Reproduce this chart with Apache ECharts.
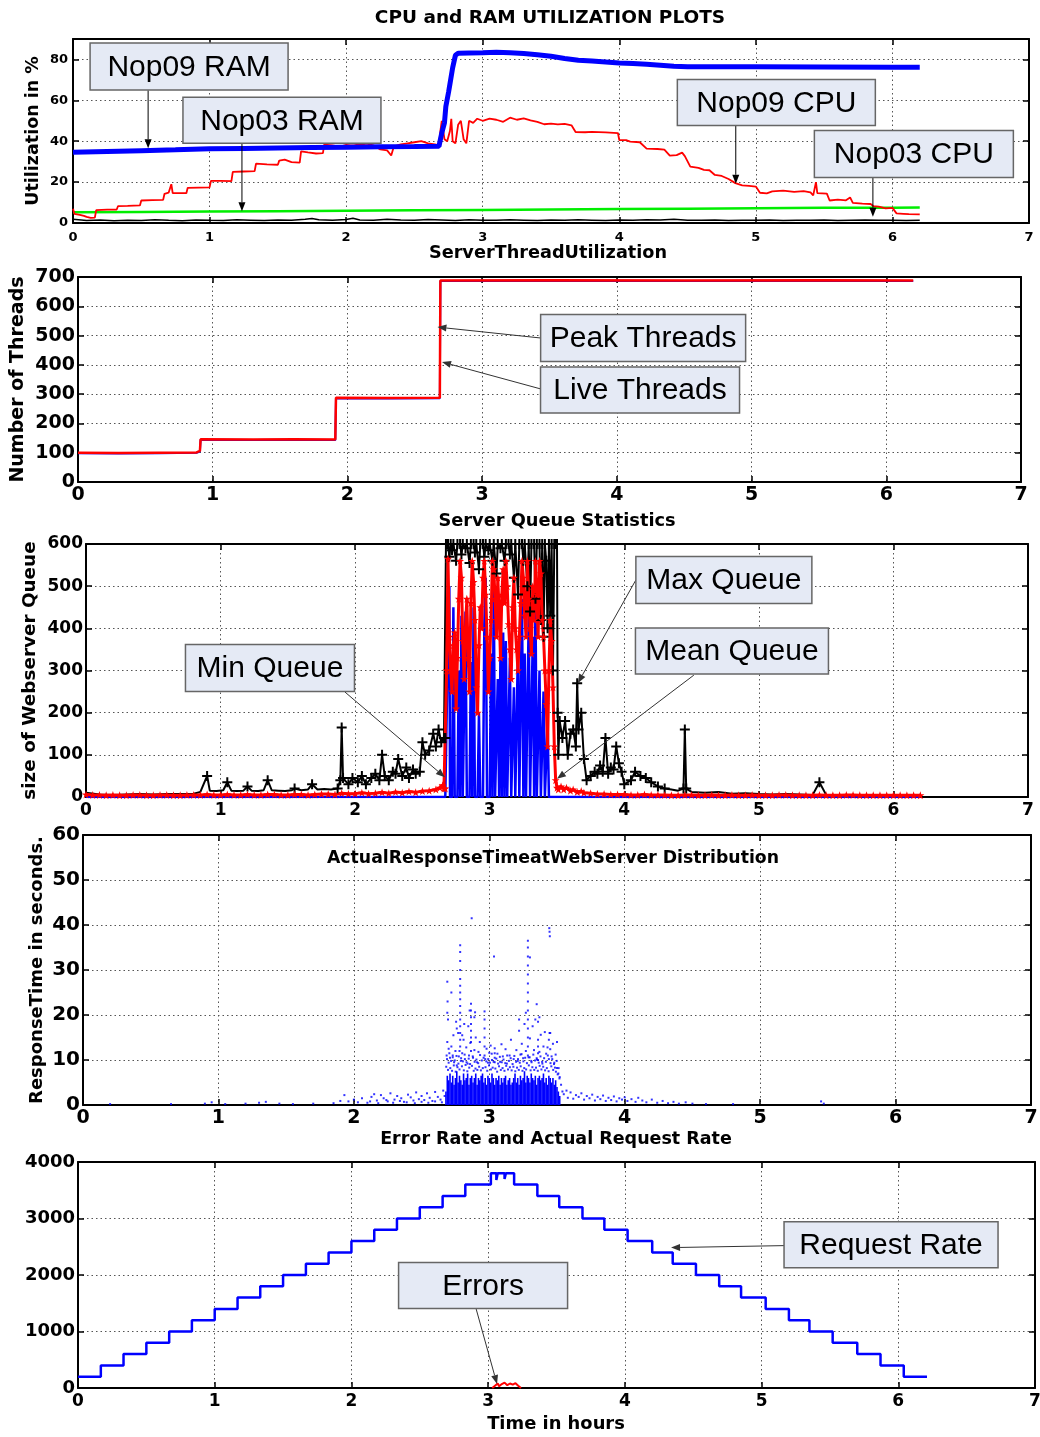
<!DOCTYPE html>
<html><head><meta charset="utf-8">
<script src="https://cdn.jsdelivr.net/npm/echarts@6/dist/echarts.min.js"></script>
<style>html,body{margin:0;padding:0;background:#fff}#c{width:1040px;height:1437px}</style>
</head><body><div id="c"></div><script>
const FF = '"Liberation Sans", Arial, Helvetica, sans-serif';
const FB = '"DejaVu Sans", Verdana, sans-serif';

// ================= DATA =================
const hourTicks = [0, 1, 2, 3, 4, 5, 6, 7];

// Panel 1: CPU and RAM utilization (%)
const ram09 = [[0,34.6],[0.25,35],[0.5,35.4],[0.75,35.8],[1.0,36.3],[1.25,36.5],[1.5,36.7],[1.75,36.9],[2.0,37.1],[2.25,37.3],[2.5,37.4],[2.68,37.6],[2.70,44],[2.72,49],[2.73,57],[2.75,64],[2.76,68],[2.78,76],[2.80,82],[2.82,83],[2.9,83.2],[3.0,83.3],[3.1,83.5],[3.2,83.3],[3.3,82.9],[3.4,82.3],[3.5,81.6],[3.6,80.5],[3.7,79.6],[3.8,79.2],[3.9,78.8],[4.0,78.3],[4.1,78],[4.2,77.6],[4.3,77.2],[4.4,76.7],[4.5,76.4],[5.0,76.4],[5.5,76.3],[6.0,76.2],[6.2,76.2]];
const ram03 = [[0,5.2],[0.5,5.4],[1,5.6],[1.5,5.8],[2,6],[2.5,6.2],[3,6.4],[3.5,6.6],[4,6.8],[4.5,7],[5,7.2],[5.5,7.4],[6,7.5],[6.2,7.6]];
const cpu09 = [[0,7],[0.01,4.5],[0.05,4],[0.08,3.5],[0.1,3],[0.13,2.5],[0.16,2.6],[0.17,6.3],[0.25,6.5],[0.32,6.6],[0.33,8.3],[0.4,8.4],[0.49,8.6],[0.5,11],[0.58,11.2],[0.66,11.3],[0.67,14.3],[0.7,14.8],[0.72,19],[0.73,14.6],[0.83,14.6],[0.84,17.2],[0.92,17.3],[1.0,17.4],[1.01,20.6],[1.08,20.6],[1.16,20.5],[1.17,25],[1.25,25.2],[1.33,25.4],[1.34,29],[1.42,28.7],[1.5,28.5],[1.51,30.5],[1.55,31],[1.6,29.8],[1.66,29.5],[1.67,35],[1.72,34.5],[1.78,34],[1.83,34.2],[1.84,38.5],[1.9,38.8],[1.95,39.5],[2.0,38.6],[2.05,39],[2.1,38.2],[2.15,38.8],[2.2,38],[2.25,36],[2.3,35.5],[2.33,33],[2.35,37.5],[2.4,38.5],[2.45,39],[2.5,39.5],[2.55,40],[2.6,39],[2.65,38.5],[2.68,38],[2.69,45],[2.7,50],[2.72,41],[2.74,40],[2.76,45],[2.77,51],[2.78,40],[2.8,39],[2.82,48],[2.84,50],[2.86,41],[2.88,39],[2.9,50],[2.93,49],[2.96,51],[3.0,50],[3.05,51],[3.1,50.5],[3.15,49.5],[3.2,51.5],[3.25,50.5],[3.3,51.2],[3.35,50.2],[3.4,49.5],[3.45,48.3],[3.5,48.6],[3.55,48.2],[3.6,48.5],[3.65,47.8],[3.68,44.5],[3.75,44.4],[3.8,44.6],[3.9,44.3],[3.99,44],[4.0,40.6],[4.05,40.5],[4.08,39.8],[4.15,39.5],[4.2,36.4],[4.28,36.2],[4.33,35.9],[4.37,33],[4.42,33.2],[4.46,34.4],[4.48,32.7],[4.52,27.6],[4.58,27],[4.62,26],[4.66,25.8],[4.7,23.5],[4.75,23],[4.8,21.5],[4.85,19.5],[4.9,18.4],[4.95,18.2],[5.0,17.8],[5.03,14.8],[5.08,14.5],[5.12,15.5],[5.2,15.8],[5.28,15.2],[5.35,15.6],[5.4,15],[5.42,13.5],[5.44,20],[5.45,14.6],[5.52,14.4],[5.54,11],[5.6,11.4],[5.66,11.1],[5.69,12.5],[5.71,9.8],[5.78,9.5],[5.84,9.3],[5.86,8.3],[5.9,8],[5.95,7.2],[6.0,7.4],[6.03,4.7],[6.08,4.5],[6.12,4.3],[6.2,4.2]];
const cpu03 = [[0,1.8],[0.1,1.2],[0.2,1.5],[0.3,1.1],[0.4,1.4],[0.5,1.2],[0.6,1.6],[0.7,1.3],[0.8,1.1],[0.9,1.5],[1.0,1.3],[1.1,1.2],[1.2,1.6],[1.3,1.4],[1.4,1.2],[1.5,1.5],[1.6,1.3],[1.7,1.8],[1.75,2.2],[1.8,1.6],[1.9,1.4],[2.0,1.7],[2.05,2.3],[2.1,1.5],[2.2,1.3],[2.3,1.8],[2.4,1.5],[2.5,1.4],[2.6,1.7],[2.7,1.5],[2.8,1.2],[2.9,1.6],[3.0,1.4],[3.1,1.3],[3.2,1.6],[3.3,1.4],[3.4,1.2],[3.5,1.5],[3.6,1.3],[3.7,1.6],[3.8,1.4],[3.9,1.2],[4.0,1.5],[4.1,1.3],[4.2,1.6],[4.3,1.5],[4.4,1.8],[4.5,1.4],[4.6,1.3],[4.7,1.5],[4.8,1.2],[4.9,1.4],[5.0,1.3],[5.1,1.5],[5.2,1.2],[5.3,1.4],[5.4,1.3],[5.5,1.5],[5.6,1.2],[5.7,1.4],[5.8,1.5],[5.9,1.3],[6.0,1.4],[6.1,1.2],[6.2,1.3]];

// Panel 2: server threads
const peakThreads = [[0,100],[0.3,99],[0.6,100],[0.88,101],[0.905,106],[0.91,146],[1.3,145],[1.6,146],[1.91,145],[1.915,288],[2.3,287],[2.686,288],[2.69,688],[3.5,689],[4.5,688],[5.5,689],[6.2,688]];
const liveThreads = [[0,98],[0.3,97],[0.6,98],[0.88,100],[0.905,104],[0.91,144],[1.3,143],[1.6,144],[1.91,143],[1.915,286],[2.3,285],[2.686,286],[2.69,686],[3.5,687],[4.5,686],[5.5,687],[6.2,686]];

// Panel 3: server queue statistics
const maxQueue = [[0,10],[0.1,6],[0.2,5],[0.3,6],[0.4,7],[0.5,6],[0.6,7],[0.7,7],[0.8,8],[0.85,12],[0.9,50],[0.92,15],[0.97,14],[1.02,16],[1.05,35],[1.08,15],[1.12,14],[1.17,15],[1.2,25],[1.23,15],[1.28,14],[1.32,16],[1.35,40],[1.38,16],[1.43,15],[1.48,14],[1.53,16],[1.55,20],[1.6,16],[1.65,18],[1.68,30],[1.72,18],[1.77,19],[1.82,18],[1.87,20],[1.89,40],[1.9,165],[1.91,45],[1.95,30],[1.98,45],[2.02,35],[2.05,50],[2.08,30],[2.12,45],[2.15,55],[2.18,40],[2.2,100],[2.22,50],[2.25,40],[2.28,60],[2.3,55],[2.32,90],[2.35,50],[2.38,70],[2.4,45],[2.43,65],[2.45,55],[2.48,60],[2.5,130],[2.52,100],[2.55,110],[2.58,150],[2.6,120],[2.62,160],[2.64,130],[2.66,140],[2.67,140],[2.675,600],[2.69,600],[2.70,570],[2.71,600],[2.72,585],[2.73,600],[2.75,560],[2.76,600],[2.78,600],[2.79,575],[2.8,600],[2.82,590],[2.83,600],[2.85,555],[2.86,600],[2.88,600],[2.89,580],[2.9,600],[2.92,540],[2.93,600],[2.95,600],[2.96,570],[2.97,600],[2.99,585],[3.0,600],[3.02,560],[3.03,600],[3.05,530],[3.06,600],[3.08,590],[3.09,600],[3.11,560],[3.12,600],[3.14,600],[3.15,575],[3.16,600],[3.18,520],[3.19,600],[3.21,480],[3.22,600],[3.24,600],[3.25,560],[3.26,600],[3.28,500],[3.29,600],[3.3,440],[3.31,600],[3.33,600],[3.34,470],[3.35,600],[3.37,600],[3.38,420],[3.39,600],[3.4,380],[3.41,600],[3.42,560],[3.43,400],[3.44,600],[3.45,430],[3.46,600],[3.47,300],[3.48,600],[3.49,600],[3.5,600],[3.505,200],[3.51,100],[3.52,180],[3.54,140],[3.56,180],[3.58,100],[3.6,150],[3.62,160],[3.64,120],[3.65,270],[3.66,160],[3.68,200],[3.7,90],[3.72,40],[3.75,50],[3.78,60],[3.8,55],[3.82,75],[3.84,60],[3.86,140],[3.88,55],[3.9,70],[3.92,65],[3.94,120],[3.96,80],[3.98,60],[4.0,30],[4.05,40],[4.08,60],[4.12,50],[4.16,45],[4.2,35],[4.25,25],[4.3,20],[4.35,18],[4.4,15],[4.44,20],[4.45,160],[4.46,20],[4.5,12],[4.6,10],[4.7,12],[4.8,8],[4.9,9],[5.0,7],[5.1,6],[5.2,7],[5.3,6],[5.4,5],[5.45,35],[5.5,5],[5.6,5],[5.7,4],[5.8,5],[5.9,4],[6.0,4],[6.2,4]];
const meanQueue = [[0,6],[0.05,5],[0.1,5],[0.15,4],[0.2,5],[0.25,4],[0.3,4],[0.35,5],[0.4,5],[0.45,4],[0.5,4],[0.55,5],[0.6,5],[0.65,4],[0.7,4],[0.75,5],[0.8,5],[0.85,5],[0.9,6],[0.95,5],[1.0,5],[1.05,6],[1.1,5],[1.15,5],[1.2,6],[1.25,5],[1.3,5],[1.35,6],[1.4,6],[1.45,5],[1.5,5],[1.55,6],[1.6,6],[1.65,5],[1.7,6],[1.75,7],[1.8,7],[1.85,6],[1.9,9],[1.95,8],[2.0,8],[2.05,10],[2.1,8],[2.15,9],[2.2,11],[2.25,9],[2.3,12],[2.35,10],[2.4,13],[2.45,11],[2.5,14],[2.55,15],[2.6,18],[2.63,22],[2.65,28],[2.66,20],[2.67,20],[2.68,300],[2.69,565],[2.7,380],[2.71,300],[2.72,250],[2.73,360],[2.74,390],[2.75,210],[2.76,330],[2.77,470],[2.78,560],[2.79,520],[2.8,370],[2.81,280],[2.82,400],[2.83,470],[2.84,330],[2.85,250],[2.86,460],[2.87,560],[2.88,510],[2.89,420],[2.9,260],[2.91,200],[2.92,360],[2.93,450],[2.94,400],[2.95,520],[2.96,560],[2.97,480],[2.98,380],[2.99,250],[3.0,330],[3.01,420],[3.02,560],[3.03,540],[3.04,470],[3.05,380],[3.06,520],[3.07,440],[3.08,330],[3.09,480],[3.1,540],[3.11,460],[3.12,560],[3.13,500],[3.14,410],[3.15,350],[3.16,280],[3.17,450],[3.18,520],[3.19,400],[3.2,350],[3.21,300],[3.22,380],[3.23,460],[3.24,560],[3.25,520],[3.26,430],[3.27,380],[3.28,560],[3.29,470],[3.3,400],[3.31,340],[3.32,500],[3.33,420],[3.34,560],[3.35,480],[3.36,380],[3.37,560],[3.38,530],[3.39,420],[3.4,380],[3.41,300],[3.42,220],[3.43,120],[3.44,300],[3.45,420],[3.46,370],[3.47,260],[3.48,120],[3.49,40],[3.5,22],[3.51,18],[3.53,25],[3.55,18],[3.57,22],[3.6,15],[3.62,18],[3.65,12],[3.68,14],[3.7,10],[3.75,9],[3.8,7],[3.85,7],[3.9,6],[3.95,6],[4.0,6],[4.05,5],[4.1,5],[4.15,6],[4.2,5],[4.25,5],[4.3,5],[4.35,4],[4.4,4],[4.45,5],[4.5,5],[4.55,4],[4.6,4],[4.65,5],[4.7,4],[4.75,4],[4.8,5],[4.85,4],[4.9,4],[4.95,5],[5.0,4],[5.05,4],[5.1,4],[5.15,5],[5.2,5],[5.25,4],[5.3,4],[5.35,4],[5.4,4],[5.45,5],[5.5,4],[5.55,4],[5.6,4],[5.65,5],[5.7,5],[5.75,4],[5.8,4],[5.85,4],[5.9,4],[5.95,4],[6.0,4],[6.05,4],[6.1,4],[6.15,4],[6.2,4]];
const minQueue = [[0,0],[2.67,0],[2.68,0],[2.69,380],[2.7,500],[2.705,0],[2.72,0],[2.73,450],[2.74,0],[2.76,0],[2.77,300],[2.78,0],[2.79,430],[2.8,0],[2.82,440],[2.83,0],[2.85,0],[2.86,320],[2.87,0],[2.88,450],[2.89,0],[2.91,0],[2.92,200],[2.93,0],[2.95,0],[2.96,410],[2.97,520],[2.98,0],[3.0,0],[3.01,340],[3.02,0],[3.03,510],[3.04,0],[3.06,280],[3.07,0],[3.08,350],[3.09,0],[3.1,390],[3.11,0],[3.12,370],[3.13,0],[3.15,330],[3.16,0],[3.18,260],[3.19,0],[3.21,360],[3.22,0],[3.24,470],[3.25,0],[3.26,340],[3.27,0],[3.29,430],[3.3,0],[3.32,380],[3.33,0],[3.34,470],[3.35,0],[3.37,300],[3.38,0],[3.4,250],[3.41,0],[3.43,180],[3.44,0],[6.2,0]];

// Panel 4: actual response time (s)
const rtBody = [[2.68,3],[2.69,6.5],[2.70,5.5],[2.71,7],[2.72,5],[2.73,6.5],[2.74,4.5],[2.75,6],[2.76,7.5],[2.77,5],[2.78,6.5],[2.79,5.5],[2.80,4.5],[2.81,7],[2.82,5.5],[2.83,6],[2.84,7],[2.85,4.5],[2.86,6],[2.87,6.5],[2.88,5],[2.89,6],[2.90,7],[2.91,4.5],[2.92,6],[2.93,5.5],[2.94,6.5],[2.95,7],[2.96,5],[2.97,6],[2.98,4.5],[2.99,6.5],[3.00,6],[3.01,5],[3.02,7],[3.03,6],[3.04,4.5],[3.05,6],[3.06,5.5],[3.07,6.5],[3.08,4.5],[3.09,6],[3.10,5],[3.11,6],[3.12,6.5],[3.13,4.5],[3.14,5.5],[3.15,6],[3.16,4.5],[3.17,5],[3.18,6],[3.19,7],[3.20,5],[3.21,6],[3.22,4.5],[3.23,6.5],[3.24,5.5],[3.25,6],[3.26,7.5],[3.27,5],[3.28,6.5],[3.29,6],[3.30,5],[3.31,7],[3.32,6],[3.33,5.5],[3.34,6.5],[3.35,4.5],[3.36,6],[3.37,6.5],[3.38,5.5],[3.39,6],[3.40,7],[3.41,5],[3.42,6],[3.43,4.5],[3.44,6.5],[3.45,6],[3.46,5],[3.47,6],[3.48,4.5],[3.49,5.5],[3.50,4],[3.51,3],[3.52,2]];
const rtCloud = [[2.682,8.5],[2.688,10.2],[2.695,7.8],[2.70,9.4],[2.705,11.5],[2.712,8.2],[2.718,9.8],[2.725,7.6],[2.73,10.6],[2.738,8.8],[2.745,9.9],[2.752,7.4],[2.758,10.9],[2.765,8.4],[2.772,9.2],[2.78,7.9],[2.792,10.4],[2.798,8.6],[2.805,9.7],[2.812,7.7],[2.818,11.2],[2.825,8.9],[2.832,9.5],[2.838,7.5],[2.848,10.3],[2.852,8.3],[2.858,9.1],[2.872,8.7],[2.878,10.8],[2.885,7.6],[2.892,9.6],[2.898,8.1],[2.905,10.1],[2.912,7.8],[2.918,9.3],[2.925,8.5],[2.932,11.1],[2.938,7.7],[2.945,9.9],[2.952,8.2],[2.958,10.5],[2.972,8.4],[2.978,9.7],[2.985,7.6],[2.992,10.2],[2.998,8.8],[3.005,9.4],[3.012,7.9],[3.018,11.4],[3.025,8.3],[3.032,9.6],[3.045,8.1],[3.052,10.3],[3.058,7.4],[3.065,9.2],[3.072,8.6],[3.078,10.7],[3.085,7.8],[3.092,9.5],[3.098,8.2],[3.105,10.1],[3.112,7.6],[3.118,9.3],[3.125,8.7],[3.132,11],[3.138,7.9],[3.145,9.8],[3.152,8.4],[3.158,10.4],[3.165,7.7],[3.172,9.1],[3.178,8.5],[3.185,10.9],[3.192,7.5],[3.198,9.6],[3.205,8.3],[3.212,10.2],[3.218,7.8],[3.225,9.4],[3.232,8.6],[3.238,11.3],[3.245,7.6],[3.252,9.7],[3.258,8.2],[3.265,10.5],[3.272,7.9],[3.278,9.3],[3.292,8.8],[3.298,10.6],[3.305,7.7],[3.312,9.5],[3.318,8.4],[3.325,11.2],[3.332,7.8],[3.338,9.9],[3.345,8.3],[3.352,10.1],[3.358,7.6],[3.365,9.4],[3.372,8.7],[3.378,10.8],[3.385,7.9],[3.392,9.2],[3.398,8.5],[3.405,10.4],[3.412,7.7],[3.418,9.6],[3.425,8.2],[3.432,11],[3.438,7.5],[3.452,9.3],[3.458,8.6],[3.465,10.2],[3.472,7.8],[3.478,9.1],[3.485,8.3],[3.492,7.4],[3.498,9.8],[3.505,6.8],[3.512,8.2],[3.518,5.9]];
const rtDots = [[2.685,11],[2.69,14],[2.69,20.5],[2.695,19],[2.69,27.4],[2.692,23],[2.70,12.5],[2.71,10.5],[2.72,13],[2.72,25],[2.73,11],[2.735,15.5],[2.74,9.5],[2.75,12],[2.755,18.5],[2.76,8.8],[2.76,17],[2.77,16],[2.775,10.8],[2.78,12],
[2.785,13],[2.785,14.5],[2.785,16],[2.785,17.5],[2.785,19],[2.785,20.5],[2.785,22],[2.785,23.5],[2.785,25],[2.785,26.5],[2.785,28],[2.785,30],[2.785,32],[2.785,34],[2.785,35.5],
[2.79,9.8],[2.8,11.5],[2.8,15.5],[2.81,14.5],[2.815,18],[2.82,10.2],[2.83,12.8],[2.84,9.2],[2.845,17.5],[2.85,11],[2.855,21],[2.86,13.8],
[2.865,12],[2.865,14],[2.865,15],[2.865,16.5],[2.865,18],[2.865,19.5],[2.865,21],[2.865,22.5],
[2.87,41.5],[2.88,10.5],[2.89,12.2],[2.89,19.5],[2.895,20.6],[2.9,15],[2.91,9.5],[2.92,11.8],[2.93,14],
[2.965,11],[2.965,13],[2.965,15],[2.965,17],[2.965,19],[2.965,20.8],
[2.97,10.2],[2.98,12.5],[2.99,9.4],[3.0,11.6],[3.01,13.2],[3.02,10],[3.04,9.5],[3.04,10.5],[3.04,11.5],[3.04,12.6],[3.035,33],
[3.06,11.4],[3.08,9.6],[3.09,13.5],[3.1,10.8],[3.12,12.4],[3.13,9.2],[3.15,11],[3.16,14.5],[3.18,10.2],[3.2,12.2],[3.21,9.8],[3.22,16.5],[3.22,19],[3.23,11.2],[3.24,13.6],[3.25,10.4],[3.26,18],[3.27,12],[3.27,20.5],
[3.285,11],[3.285,13],[3.285,15],[3.285,17],[3.285,19],[3.285,21],[3.285,23],[3.285,25],[3.285,27],[3.285,29],[3.285,31],[3.285,33],[3.285,35],[3.285,36.5],[3.3,32.8],
[3.29,10.6],[3.3,14.8],[3.31,9.8],[3.32,17.5],[3.33,12.2],[3.34,19],[3.35,10.4],[3.35,22.4],[3.36,10],[3.36,11.5],[3.36,13],[3.36,14.5],[3.36,18.5],[3.37,19.5],
[3.37,11.8],[3.38,15.6],[3.39,9.6],[3.4,13],[3.41,16.2],[3.42,11.4],[3.43,12.8],[3.44,10.2],[3.443,39.3],[3.445,38.5],[3.447,37.5],[3.44,14.5],[3.445,16],
[3.45,12.4],[3.45,16],[3.46,10.8],[3.47,13.6],[3.48,9.4],[3.49,11.2],[3.5,8.2],[3.5,14],[3.51,7],[3.52,6.2]];
const rtLow = [[0.2,0.2],[0.65,0.2],[0.9,0.3],[0.95,0.6],[1.05,0.2],[1.2,0.3],[1.3,0.5],[1.35,0.7],[1.45,0.3],[1.55,0.2],[1.7,0.3],[1.85,0.4],[1.9,0.9],[1.93,2.2],[1.96,0.8],[2.0,1.2],[2.03,0.6],[2.06,1.5],[2.1,0.5],[2.13,1.8],[2.15,2.4],[2.17,1.0],[2.2,2.2],[2.22,1.5],[2.25,0.8],[2.27,2.6],[2.3,1.2],[2.32,2.0],[2.35,1.5],[2.37,0.7],[2.4,2.3],[2.42,1.7],[2.44,1.0],[2.46,2.8],[2.48,1.3],[2.5,2.0],[2.52,1.1],[2.54,2.6],[2.56,1.6],[2.58,0.9],[2.6,2.9],[2.62,1.8],[2.64,1.2],[2.66,3.2],[2.67,2.0],[2.12,0.8],[2.18,0.4],[2.24,1.1],[2.29,0.5],[2.34,0.9],[2.39,0.6],[2.45,0.4],[2.5,0.7],[2.55,0.5],[2.6,0.8],[2.65,0.6],
[3.53,4.5],[3.54,3],[3.55,2.4],[3.57,3.2],[3.58,1.6],[3.6,2.8],[3.62,1.4],[3.64,2.2],[3.66,1.8],[3.68,2.6],[3.7,1.2],[3.72,2.0],[3.74,1.5],[3.76,2.3],[3.78,1.0],[3.8,1.8],[3.82,1.3],[3.84,2.1],[3.86,0.9],[3.88,1.6],[3.9,1.1],[3.92,1.9],[3.94,0.8],[3.96,1.5],[3.98,1.2],[4.0,1.7],[4.02,0.9],[4.05,1.3],[4.08,0.7],[4.1,1.6],[4.13,1.0],[4.16,0.6],[4.2,1.2],[4.24,0.5],[4.28,0.9],[4.32,0.4],[4.36,0.7],[4.4,0.3],[4.45,0.6],[4.5,0.3],[4.6,0.2],[4.8,0.2],[5.45,0.8],[5.47,0.3]];

// Panel 5: request rate and errors
const reqTimes = [0,0.167,0.333,0.5,0.667,0.833,1.0,1.167,1.333,1.5,1.667,1.833,2.0,2.167,2.333,2.5,2.667,2.833,3.02,3.06,3.07,3.12,3.13,3.19,3.36,3.52,3.69,3.85,4.02,4.2,4.35,4.52,4.69,4.85,5.03,5.2,5.35,5.52,5.7,5.87,6.04,6.21];
const reqRates = [200,400,600,800,1000,1200,1400,1600,1800,2000,2200,2400,2600,2800,3000,3200,3400,3600,3800,3680,3800,3700,3800,3600,3400,3200,3000,2800,2600,2400,2200,2000,1800,1600,1400,1200,1000,800,600,400,200,200];
const errTimes = [3.03,3.05,3.07,3.08,3.1,3.12,3.14,3.16,3.18,3.2,3.22,3.24];
const errVals  = [0,40,80,30,70,95,50,80,60,85,40,0];

// Annotation texts and anchor points (hours, value)
const notes = [
  {g:0, text:'Nop09 RAM',   at:[0.85,76.6],  from:[0.55,64.9],  to:[0.55,36.6]},
  {g:0, text:'Nop03 RAM',   at:[1.53,50.2],  from:[1.237,39],   to:[1.237,5.8]},
  {g:0, text:'Nop09 CPU',   at:[5.15,59],    from:[4.853,47.8], to:[4.853,19.2]},
  {g:0, text:'Nop03 CPU',   at:[6.157,33.7], from:[5.857,22],   to:[5.857,3]},
  {g:1, text:'Peak Threads',at:[4.195,491.6],from:[3.437,491.6],to:[2.668,529]},
  {g:1, text:'Live Threads',at:[4.172,314],  from:[3.437,317.5],to:[2.702,409.7]},
  {g:2, text:'Min Queue',   at:[1.367,305.9],from:[1.924,249],  to:[2.667,47]},
  {g:2, text:'Max Queue',   at:[4.74,514.6], from:[4.086,514.6],to:[3.655,270]},
  {g:2, text:'Mean Queue',  at:[4.8,346],    from:[4.517,289],  to:[3.5,43]},
  {g:4, text:'Request Rate',at:[5.947,2537], from:[5.165,2520], to:[4.338,2485]},
  {g:4, text:'Errors',      at:[2.963,1815], from:[2.911,1410], to:[3.065,70]}
];

// ================= LAYOUT / STYLE =================
const boxSize = {'Nop09 RAM':[198,47],'Nop03 RAM':[198,46],'Nop09 CPU':[198,46],'Nop03 CPU':[199,47],'Peak Threads':[205,47],'Live Threads':[199,46],'Min Queue':[169,47],'Max Queue':[176,47],'Mean Queue':[193,46],'Request Rate':[214,46],'Errors':[169,46]};
const panels = [
  {left:73, top:39,  width:956, height:184, yMax:90,   yInt:20,   xFont:13, yFont:13, xMargin:8, yMargin:5, yName:'Utilization in %',        yNameSize:17.5, yNameGap:31},
  {left:78, top:277, width:943, height:205, yMax:700,  yInt:100,  xFont:19, yFont:19, xMargin:4, yMargin:3, yName:'Number of Threads',       yNameSize:19,   yNameGap:50.5},
  {left:86, top:544, width:942, height:253, yMax:600,  yInt:100,  xFont:17, yFont:17, xMargin:5, yMargin:3, yName:'size of Webserver Queue', yNameSize:18.4, yNameGap:46.5},
  {left:83, top:835, width:948, height:270, yMax:60,   yInt:10,   xFont:19, yFont:20, xMargin:4, yMargin:3, yName:'ResponseTime in seconds.',yNameSize:18,   yNameGap:37},
  {left:78, top:1162,width:957, height:226, yMax:4000, yInt:1000, xFont:17, yFont:18, xMargin:5, yMargin:3, yName:'',                        yNameSize:17,   yNameGap:40}
];
const titles = [
  {text:'CPU and RAM UTILIZATION PLOTS', x:550, y:18, size:18.5},
  {text:'ServerThreadUtilization', x:548, y:253, size:17.7},
  {text:'Server Queue Statistics', x:557, y:521, size:17.8},
  {text:'ActualResponseTimeatWebServer Distribution', x:553, y:859, size:17.3},
  {text:'Error Rate and Actual Request Rate', x:556, y:1139, size:17.5},
  {text:'Time in hours', x:556, y:1424, size:17.9}
];

const grids = [], xAxes = [], yAxes = [];
const axLine = {show:true, onZero:false, lineStyle:{color:'#000', width:2}};
const axTick = {show:true, inside:true, length:6, lineStyle:{color:'#000', width:1.5}};
const split = {show:true, lineStyle:{type:[1.5,3], color:'#555', width:1}};
panels.forEach((p, i) => {
  grids.push({left:p.left, top:p.top, width:p.width, height:p.height, containLabel:false, outerBoundsMode:'none'});
  xAxes.push({type:'value', gridIndex:i, position:'bottom', min:hourTicks[0], max:hourTicks[hourTicks.length-1], interval:1,
    axisLine:axLine, axisTick:axTick, splitLine:split,
    axisLabel:{color:'#000', fontFamily:FB, fontWeight:'bold', fontSize:p.xFont, margin:p.xMargin, formatter:v => String(v)}});
  xAxes.push({type:'value', gridIndex:i, position:'top', min:hourTicks[0], max:hourTicks[hourTicks.length-1], interval:1,
    axisLine:axLine, axisTick:axTick, splitLine:{show:false}, axisLabel:{show:false}});
  yAxes.push({type:'value', gridIndex:i, position:'left', min:0, max:p.yMax, interval:p.yInt,
    axisLine:axLine, axisTick:axTick, splitLine:split,
    axisLabel:{color:'#000', fontFamily:FB, fontWeight:'bold', fontSize:p.yFont, margin:p.yMargin, showMaxLabel: p.yMax % p.yInt === 0, formatter:v => String(v)},
    name:p.yName, nameLocation:'middle', nameGap:p.yNameGap, nameMoveOverlap:false,
    nameTextStyle:{color:'#000', fontFamily:FB, fontWeight:'bold', fontSize:p.yNameSize}});
  yAxes.push({type:'value', gridIndex:i, position:'right', min:0, max:p.yMax, interval:p.yInt,
    axisLine:axLine, axisTick:axTick, splitLine:{show:false}, axisLabel:{show:false}});
});

function lineS(g, data, color, width, extra) {
  return Object.assign({type:'line', xAxisIndex:2*g, yAxisIndex:2*g, data:data, showSymbol:false, symbol:'none',
    lineStyle:{color:color, width:width}, itemStyle:{color:color}, silent:true, animation:false}, extra || {});
}
function dots(g, data) {
  return {type:'scatter', xAxisIndex:2*g, yAxisIndex:2*g, data:data, symbol:'rect', symbolSize:2,
    itemStyle:{color:'#0000ff'}, silent:true, animation:false};
}
const PLUS = 'path://M4,0H6V4H10V6H6V10H4V6H0V4H4Z';
const STAR = 'path://M5,0L6.2,3.8L10,3.8L7,6.2L8.1,10L5,7.6L1.9,10L3,6.2L0,3.8L3.8,3.8Z';

const series = [
  lineS(0, cpu03, '#000000', 1.5),
  lineS(0, ram03, '#00ee00', 2.5),
  lineS(0, cpu09, '#ff0000', 1.8),
  lineS(0, ram09, '#0000ff', 5),
  lineS(1, liveThreads, '#0000ff', 2),
  lineS(1, peakThreads, '#ff0000', 2.5),
  lineS(2, maxQueue, '#000000', 2, {showSymbol:true, symbol:PLUS, symbolSize:v => (v[1] >= 20 ? 10 : 0)}),
  lineS(2, minQueue, '#0000ff', 2.5),
  lineS(2, meanQueue, '#ff0000', 3, {showSymbol:true, symbol:STAR, symbolSize:8}),
  {type:'bar', xAxisIndex:6, yAxisIndex:6, data:rtBody, barWidth:1.6, itemStyle:{color:'#0000ff'}, silent:true, animation:false},
  dots(3, rtCloud),
  dots(3, rtDots),
  dots(3, rtLow),
  lineS(4, reqTimes.map((t, k) => [t, reqRates[k]]), '#0000ff', 2.5, {step:'end'}),
  lineS(4, errTimes.map((t, k) => [t, errVals[k]]), '#ff0000', 2)
];

const chart = echarts.init(document.getElementById('c'), null, {renderer:'canvas'});
chart.setOption({animation:false, backgroundColor:'#fff', grid:grids, xAxis:xAxes, yAxis:yAxes, series:series});

const gfx = [];
titles.forEach(t => gfx.push({type:'text', x:t.x, y:t.y, z:100,
  style:{text:t.text, fill:'#000', fontFamily:FB, fontWeight:'bold', fontSize:t.size, align:'center', verticalAlign:'middle'}}));
notes.forEach(n => {
  const c = chart.convertToPixel({gridIndex:n.g}, n.at);
  const p0 = chart.convertToPixel({gridIndex:n.g}, n.from);
  const p1 = chart.convertToPixel({gridIndex:n.g}, n.to);
  const col = n.g === 0 ? '#000' : '#333';
  const dx = p1[0]-p0[0], dy = p1[1]-p0[1], L = Math.sqrt(dx*dx+dy*dy), ux = dx/L, uy = dy/L;
  const hl = 9, hw = 3.5, bx = p1[0]-ux*hl, by = p1[1]-uy*hl;
  gfx.push({type:'line', z:98, shape:{x1:p0[0], y1:p0[1], x2:bx, y2:by}, style:{stroke:col, lineWidth:1}});
  gfx.push({type:'polygon', z:98, shape:{points:[[p1[0],p1[1]],[bx-uy*hw, by+ux*hw],[bx+uy*hw, by-ux*hw]]}, style:{fill:col}});
  const s = boxSize[n.text];
  gfx.push({type:'rect', z:100, shape:{x:c[0]-s[0]/2, y:c[1]-s[1]/2, width:s[0], height:s[1]}, style:{fill:'#e5eaf5', stroke:'#666', lineWidth:1.5}});
  gfx.push({type:'text', z:101, x:c[0], y:c[1]+1, style:{text:n.text, fill:'#000', fontFamily:FF, fontSize:30, align:'center', verticalAlign:'middle'}});
});
chart.setOption({graphic:gfx});
</script></body></html>
